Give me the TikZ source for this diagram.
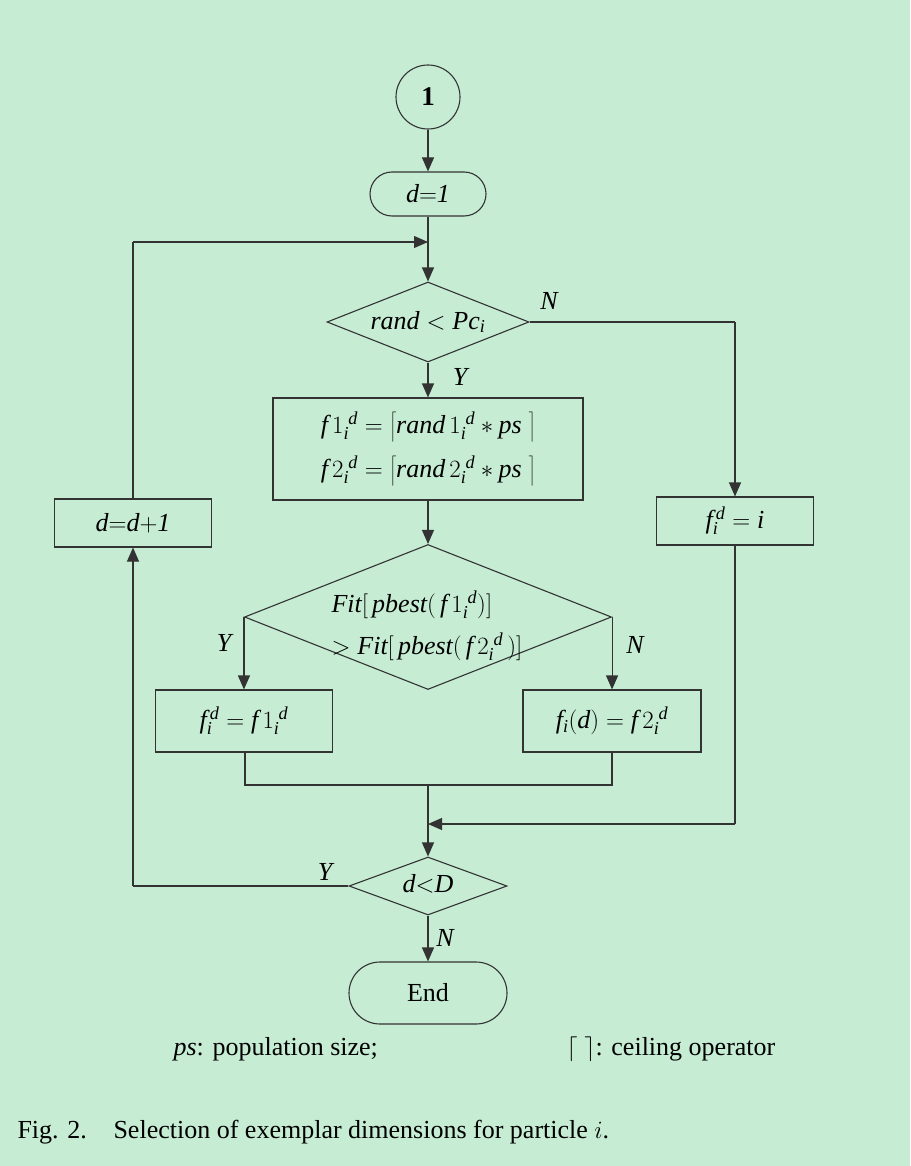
\documentclass[tikz,border=0pt]{standalone}
\usepackage{fontspec}
\setmainfont{Liberation Serif}
\usetikzlibrary{shapes.geometric,arrows.meta}
\definecolor{bg}{RGB}{198,236,212}
\newcommand{\mi}[1]{\mathit{#1}}
\newcommand{\tallstrut}{\rule[-7pt]{0pt}{28pt}}
\begin{document}
\begin{tikzpicture}[x=1pt,y=-1pt,
  every node/.style={font=\fontsize{26}{30}\selectfont},
  ln/.style={line width=1.1pt,draw=black!80},
  arr/.style={ln,-{Triangle[length=14pt,width=12pt]}},
  boxn/.style={ln,rectangle,inner sep=0pt},
  term/.style={ln,rectangle,inner sep=0pt},
  dia/.style={ln,diamond,inner sep=0pt},
  lab/.style={font=\fontsize{26}{30}\selectfont\itshape}]
\fill[bg] (0,0) rectangle (910,1166);
\useasboundingbox (0,0) rectangle (910,1166);
% nodes
\node[ln,circle,minimum size=64pt,inner sep=0pt,font=\fontsize{27}{30}\selectfont\bfseries] (c1) at (428,97) {1};
\node[term,rounded corners=22pt,minimum width=116pt,minimum height=44pt] (d1) at (428,194) {$\mi{d}\mathrm{=}\mi{1}$};
\node[dia,minimum width=202pt,minimum height=80pt] (q1) at (428,322) {};
\node (q1t) at (428,322) {$\mi{rand} < \mi{Pc}_{\mi{i}}$};
\node[boxn,minimum width=310pt,minimum height=102pt] (b1) at (428,449) {};
\node[inner sep=0pt] (b1a) at (428,427) {$\mi{f}\,1_{\mi{i}}^{\;\mi{d}} = \left\lceil\tallstrut \mi{rand}\,1_{\mi{i}}^{\;\mi{d}} * \mi{ps}\;\right\rceil$};
\node[inner sep=0pt] (b1b) at (428,471) {$\mi{f}\,2_{\mi{i}}^{\;\mi{d}} = \left\lceil\tallstrut \mi{rand}\,2_{\mi{i}}^{\;\mi{d}} * \mi{ps}\;\right\rceil$};
\node[boxn,minimum width=157pt,minimum height=48pt] (bi) at (735,521) {$\mi{f}_{\mi{i}}^{\,\mi{d}} = \mi{i}$};
\node[boxn,minimum width=157pt,minimum height=48pt] (dd) at (133,523) {$\mi{d}\mathrm{=}\mi{d}\mathrm{+}\mi{1}$};
\node[dia,minimum width=367pt,minimum height=145pt] (q2) at (428,617) {};
\node[anchor=west,align=left] (q2t) at (328,626) {$\mi{Fit}[\,\mi{pbest}(\,\mi{f}\,1_{\mi{i}}^{\;\mi{d}})]$\\[12pt]$> \mi{Fit}[\,\mi{pbest}(\,\mi{f}\,2_{\mi{i}}^{\;\mi{d}}\,)]$};
\node[boxn,minimum width=177pt,minimum height=62pt] (bl) at (244,721) {$\mi{f}_{\mi{i}}^{\,\mi{d}} = \mi{f}\,1_{\mi{i}}^{\;\mi{d}}$};
\node[boxn,minimum width=178pt,minimum height=62pt] (br) at (612,721) {$\mi{f}_{\mi{i}}(\mi{d}) = \mi{f}\,2_{\mi{i}}^{\;\mi{d}}$};
\node[dia,minimum width=158pt,minimum height=58pt] (q3) at (428,886) {};
\node (q3t) at (428,884) {$\mi{d}\mathrm{<}\mi{D}$};
\node[term,rounded corners=31pt,minimum width=158pt,minimum height=62pt] (end) at (428,993) {End};
% coordinates
\coordinate (j1) at (428,242);
\coordinate (lt) at (133,242);
\coordinate (r1) at (735,322);
\coordinate (m1) at (245,785);
\coordinate (m2) at (612,785);
\coordinate (m3) at (428,785);
\coordinate (j2) at (428,824);
\coordinate (r2) at (735,824);
\coordinate (lb) at (133,886);
% connectors
\draw[arr] (c1) -- (d1);
\draw[ln] (d1) -- (j1);
\draw[arr] (j1) -- (q1.north);
\draw[arr] (q1.south) -- (b1);
\draw[arr] (b1) -- (q2.north);
\draw[ln] (q1.east) -- (r1);
\draw[arr] (r1) -- (bi);
\draw[arr] (q2.west) -- (q2.west |- bl.north);
\draw[arr] (q2.east) -- (q2.east |- br.north);
\draw[ln] (bl.south -| m1) -- (m1) -- (m2) -- (br.south -| m2);
\draw[arr] (m3) -- (q3.north);
\draw[ln] (bi) -- (r2);
\draw[arr] (r2) -- (j2);
\draw[arr] (q3.south) -- (end);
\draw[ln] (q3.west) -- (lb);
\draw[arr] (lb) -- (dd);
\draw[ln] (dd) -- (lt);
\draw[arr] (lt) -- (j1);
% labels
\node[lab] (ln1) at (549,301) {N};
\node[lab] (ly1) at (460,377) {Y};
\node[lab] (ly2) at (224,643) {Y};
\node[lab] (ln2) at (635,645) {N};
\node[lab] (ly3) at (325,872) {Y};
\node[lab] (ln3) at (445,938) {N};
% notes
\node[anchor=west] (n1) at (170,1049) {\textit{ps}: population size;};
\node[anchor=west] (n2) at (563,1049) {$\lceil\;\rceil$: ceiling operator};
\node[anchor=base west] (cap1) at (14,1138) {Fig. 2.};
\node[anchor=base west] (cap2) at (110,1138) {Selection of exemplar dimensions for particle $i$.};
\end{tikzpicture}
\end{document}
